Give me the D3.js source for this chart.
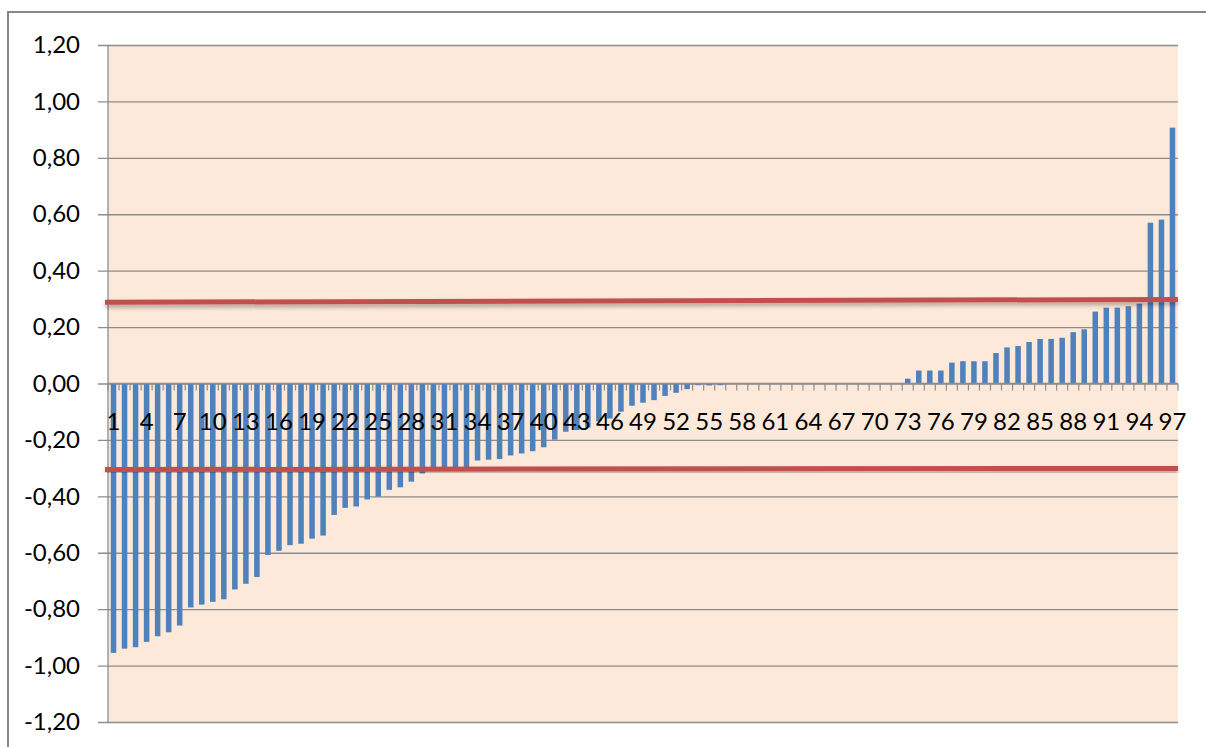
<!DOCTYPE html>
<html>
<head>
<meta charset="utf-8">
<script src="https://cdn.jsdelivr.net/npm/d3@7"></script>
<style>
  body { margin: 0; background: #fff; }
  text { font-family: Lato, "Open Sans", sans-serif; }
</style>
</head>
<body>
<div id="chart"></div>
<script>
// Categories 1..97 and the bar values
var categories = [1, 2, 3, 4, 5, 6, 7, 8, 9, 10, 11, 12, 13, 14, 15, 16, 17, 18, 19, 20,
  21, 22, 23, 24, 25, 26, 27, 28, 29, 30, 31, 32, 33, 34, 35, 36, 37, 38, 39, 40,
  41, 42, 43, 44, 45, 46, 47, 48, 49, 50, 51, 52, 53, 54, 55, 56, 57, 58, 59, 60,
  61, 62, 63, 64, 65, 66, 67, 68, 69, 70, 71, 72, 73, 74, 75, 76, 77, 78, 79, 80,
  81, 82, 83, 84, 85, 86, 87, 88, 89, 90, 91, 92, 93, 94, 95, 96, 97];

var values = [
  -0.955, -0.940, -0.935, -0.916, -0.896, -0.882, -0.858, -0.794, -0.784, -0.774,
  -0.765, -0.730, -0.710, -0.686, -0.608, -0.593, -0.573, -0.568, -0.550, -0.539,
  -0.466, -0.441, -0.436, -0.411, -0.401, -0.377, -0.368, -0.348, -0.319, -0.305,
  -0.302, -0.300, -0.298, -0.273, -0.270, -0.268, -0.255, -0.248, -0.240, -0.226,
  -0.199, -0.171, -0.165, -0.156, -0.134, -0.124, -0.100, -0.079, -0.068, -0.059,
  -0.044, -0.033, -0.020, -0.006, -0.007, -0.006, 0, 0, 0, 0,
  0, 0, 0, 0, 0, 0, 0, 0, 0, 0,
  0, 0, 0.017, 0.046, 0.046, 0.046, 0.074, 0.079, 0.079, 0.079,
  0.108, 0.128, 0.133, 0.147, 0.158, 0.158, 0.162, 0.182, 0.192, 0.255,
  0.269, 0.269, 0.274, 0.283, 0.570, 0.581, 0.907];

// the two red threshold lines (left end, right end)
var upperLine = [0.288, 0.298];
var lowerLine = [-0.305, -0.301];

var yTicks = [-1.2, -1.0, -0.8, -0.6, -0.4, -0.2, 0, 0.2, 0.4, 0.6, 0.8, 1.0, 1.2];
var xLabelEvery = 3;

var svgWidth = 1206;
var svgHeight = 747;
var margin = { top: 45, right: 28, bottom: 25, left: 108 };
var chartWidth = svgWidth - margin.left - margin.right;
var chartHeight = svgHeight - margin.top - margin.bottom;

var svg = d3.select("#chart")
  .append("svg")
  .attr("width", svgWidth)
  .attr("height", svgHeight);

// soft shadow under the red lines
var defs = svg.append("defs");
defs.append("filter")
  .attr("id", "shadow")
  .attr("x", "-5%").attr("y", "-300%")
  .attr("width", "110%").attr("height", "700%")
  .append("feDropShadow")
  .attr("dx", 0).attr("dy", 3)
  .attr("stdDeviation", 2)
  .attr("flood-color", "#000")
  .attr("flood-opacity", 0.3);

// outer chart frame
svg.append("rect")
  .attr("x", 8).attr("y", 12)
  .attr("width", svgWidth + 20).attr("height", svgHeight + 20)
  .attr("fill", "#fff")
  .attr("stroke", "#878787")
  .attr("stroke-width", 2);

var chartGroup = svg.append("g")
  .attr("transform", `translate(${margin.left}, ${margin.top})`);

var xScale = d3.scaleBand()
  .domain(categories)
  .range([0, chartWidth])
  .paddingInner(0.5)
  .paddingOuter(0.25);

var yScale = d3.scaleLinear()
  .domain([-1.2, 1.2])
  .range([chartHeight, 0]);

// plot background
chartGroup.append("rect")
  .attr("width", chartWidth)
  .attr("height", chartHeight)
  .attr("fill", "#fde9d9");

// gridlines + y axis (comma decimals, plain hyphen for minus)
var fmt = d3.format(".2f");
var leftAxis = d3.axisLeft(yScale)
  .tickValues(yTicks)
  .tickSize(-chartWidth)
  .tickFormat(d => (d < 0 ? "-" : "") + fmt(Math.abs(d)).replace(".", ","));

var yAxisGroup = chartGroup.append("g").call(leftAxis);
yAxisGroup.select(".domain").remove();
yAxisGroup.selectAll(".tick line")
  .attr("x1", -10)
  .attr("stroke", "#8c8c8c")
  .attr("stroke-width", 1.3);
yAxisGroup.selectAll(".tick text")
  .attr("font-size", 24)
  .attr("fill", "#000")
  .attr("x", -28);

// vertical axis line
chartGroup.append("line")
  .attr("x1", 0).attr("x2", 0)
  .attr("y1", 0).attr("y2", chartHeight)
  .attr("stroke", "#8c8c8c")
  .attr("stroke-width", 1.3);

// bars
chartGroup.selectAll(".bar")
  .data(values)
  .enter()
  .append("rect")
  .attr("class", "bar")
  .attr("x", (d, i) => xScale(categories[i]))
  .attr("width", xScale.bandwidth())
  .attr("y", d => yScale(Math.max(0, d)))
  .attr("height", d => Math.abs(yScale(d) - yScale(0)))
  .attr("fill", "#4f81bd");

// x axis line at zero and tick marks on category boundaries
chartGroup.append("line")
  .attr("x1", 0).attr("x2", chartWidth)
  .attr("y1", yScale(0)).attr("y2", yScale(0))
  .attr("stroke", "#8c8c8c")
  .attr("stroke-width", 1.3);

var step = xScale.step();
var boundaries = categories.map(c => xScale(c) - step * 0.25);
boundaries.push(chartWidth);
chartGroup.selectAll(".xtick")
  .data(boundaries)
  .enter()
  .append("line")
  .attr("class", "xtick")
  .attr("x1", d => d).attr("x2", d => d)
  .attr("y1", yScale(0)).attr("y2", yScale(0) + 7)
  .attr("stroke", "#8c8c8c")
  .attr("stroke-width", 1.2);

// red threshold lines
var lineX = d3.scaleLinear().domain([0, 1]).range([-3, chartWidth]);
var lineGen = d3.line()
  .x((d, i) => lineX(i))
  .y(d => yScale(d));

[upperLine, lowerLine].forEach(function(ln) {
  chartGroup.append("path")
    .datum(ln)
    .attr("d", lineGen)
    .attr("fill", "none")
    .attr("stroke", "#c0504d")
    .attr("stroke-width", 5)
    .attr("filter", "url(#shadow)");
});

// x labels every 3rd category
chartGroup.selectAll(".xlabel")
  .data(categories.filter((c, i) => i % xLabelEvery === 0))
  .enter()
  .append("text")
  .attr("class", "xlabel")
  .attr("x", d => xScale(d) + xScale.bandwidth() / 2)
  .attr("y", yScale(0) + 46)
  .attr("text-anchor", "middle")
  .attr("font-size", 24)
  .attr("fill", "#000")
  .text(d => d);
</script>
</body>
</html>
